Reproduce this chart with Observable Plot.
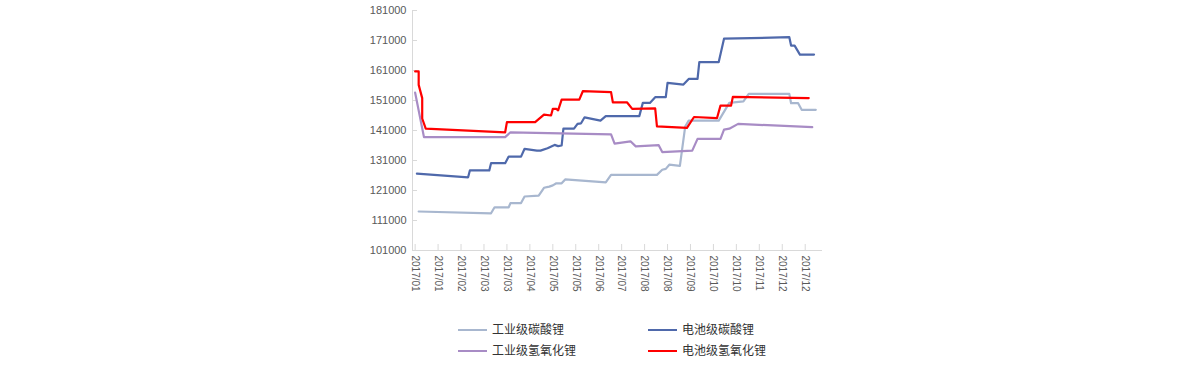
<!DOCTYPE html>
<html>
<head>
<meta charset="utf-8">
<script src="https://cdn.jsdelivr.net/npm/d3@7"></script>
<script src="https://cdn.jsdelivr.net/npm/@observablehq/plot@0.6"></script>
<style>
  html, body { margin: 0; padding: 0; background: #fff; }
  #wrap { position: relative; width: 1200px; height: 369px; overflow: hidden; }
  #chart svg { display: block; }
  #chart g[aria-label="x-axis tick label"] text { font-family: "Liberation Sans Narrow", "Arial Narrow", "Liberation Sans", sans-serif; font-size: 10px; }
  .lg { position: absolute; font-family: "Noto Sans CJK SC", sans-serif; font-size: 12px; color: #333; line-height: 14px; white-space: nowrap; }
  .sw { position: absolute; height: 2.5px; width: 29px; }
</style>
</head>
<body>
<div id="wrap">
  <div id="chart"></div>
  <div id="legend"></div>
</div>
<script>
// Category axis: one category per trading day, a label every 13 categories
const xTickLabels = ["2017/01","2017/01","2017/02","2017/03","2017/03","2017/04","2017/05","2017/05","2017/06","2017/07","2017/08","2017/08","2017/09","2017/10","2017/10","2017/11","2017/12","2017/12"];
const labelStep = 13;
const yTicks = [101000,111000,121000,131000,141000,151000,161000,171000,181000];

const seriesNames = ["工业级碳酸锂", "电池级碳酸锂", "工业级氢氧化锂", "电池级氢氧化锂"];
const seriesColors = ["#a8b7cf", "#4f69ab", "#a88cc5", "#ff0000"];

// 工业级碳酸锂
const indCarbIdx = [2,43,45,53,54,60,62,70,73,76,78,80,83,85,108,111,137,140,142,144,150,153,155,172,178,186,189,212,213,217,219,227];
const indCarbVal = [114000,113400,115400,115400,116800,116800,119000,119300,121900,122300,122700,123400,123400,124700,123700,126200,126200,127900,128200,129600,129200,142300,144300,144300,150200,150700,153200,153200,150100,150100,147900,147900];

// 电池级碳酸锂
const batCarbIdx = [1,30,31,42,43,51,53,60,62,69,71,75,79,81,83,84,90,92,94,96,105,108,127,129,133,136,142,143,152,155,160,161,172,175,212,213,215,218,226];
const batCarbVal = [126600,125400,127700,127700,130100,130100,132300,132300,134900,134300,134300,135100,136200,135800,136000,141600,141600,143200,143400,145400,144300,145800,145800,150200,150200,152100,152100,156900,156300,158200,158200,163800,163800,171600,172100,169300,169300,166300,166300];

// 工业级氢氧化锂
const indHydIdx = [0,5,51,54,111,113,122,125,138,140,157,160,173,175,178,183,225];
const indHydVal = [153600,138800,138800,140400,139700,136600,137400,135700,136100,133800,134300,138200,138200,141300,141600,143200,142100];

// 电池级氢氧化锂
const batHydIdx = [0,2,2,4,4,6,51,52,68,73,77,78,80,81,83,93,95,111,112,120,123,136,137,154,158,171,173,179,180,223];
const batHydVal = [160700,160700,156200,151800,145000,141600,140400,143800,143800,146300,146000,148200,148200,147700,151300,151300,154100,153800,150400,150400,148200,148400,142400,141900,145500,145100,149300,149300,152200,151800];

const seriesIdx = [indCarbIdx, batCarbIdx, indHydIdx, batHydIdx];
const seriesVal = [indCarbVal, batCarbVal, indHydVal, batHydVal];

const rows = [];
seriesNames.forEach((name, s) => {
  seriesIdx[s].forEach((i, k) => rows.push({series: name, idx: i, value: seriesVal[s][k]}));
});

const xTickValues = xTickLabels.map((_, i) => i * labelStep);
const axisColor = "#d9d9d9";
const textColor = "#595959";

const chart = Plot.plot({
  width: 1200,
  height: 300,
  marginLeft: 412,
  marginRight: 378,
  marginTop: 10,
  marginBottom: 50,
  style: {fontFamily: "'Liberation Sans', Arial, sans-serif", fontSize: "11px", color: textColor, background: "#fff"},
  x: {domain: [-1.5, 230.8]},
  y: {domain: [101000, 181000]},
  color: {domain: seriesNames, range: seriesColors},
  marks: [
    Plot.ruleY([101000], {stroke: axisColor, strokeWidth: 1}),
    Plot.ruleX([-1.5], {stroke: axisColor, strokeWidth: 1}),
    Plot.axisY({ticks: yTicks, tickSize: -5, tickPadding: 11, stroke: axisColor, fill: textColor, tickFormat: d => String(d), label: null}),
    Plot.axisX({ticks: xTickValues, tickSize: -6, tickPadding: 11, tickRotate: 90, stroke: axisColor, fill: textColor, tickFormat: d => xTickLabels[Math.round(d / labelStep)], label: null}),
    Plot.line(rows, {x: "idx", y: "value", z: "series", stroke: "series", strokeWidth: 2.2, curve: "linear"})
  ]
});
document.getElementById("chart").appendChild(chart);

// Legend (HTML, below the SVG)
const legend = document.getElementById("legend");
const legendPos = [[458, 330], [648, 330], [458, 351], [648, 351]];
seriesNames.forEach((name, s) => {
  const [lx, ly] = legendPos[s];
  const sw = document.createElement("div");
  sw.className = "sw";
  sw.style.left = lx + "px";
  sw.style.top = (ly - 1.25) + "px";
  sw.style.background = seriesColors[s];
  legend.appendChild(sw);
  const t = document.createElement("div");
  t.className = "lg";
  t.style.left = (lx + 34) + "px";
  t.style.top = (ly - 8) + "px";
  t.textContent = name;
  legend.appendChild(t);
});
</script>
</body>
</html>
